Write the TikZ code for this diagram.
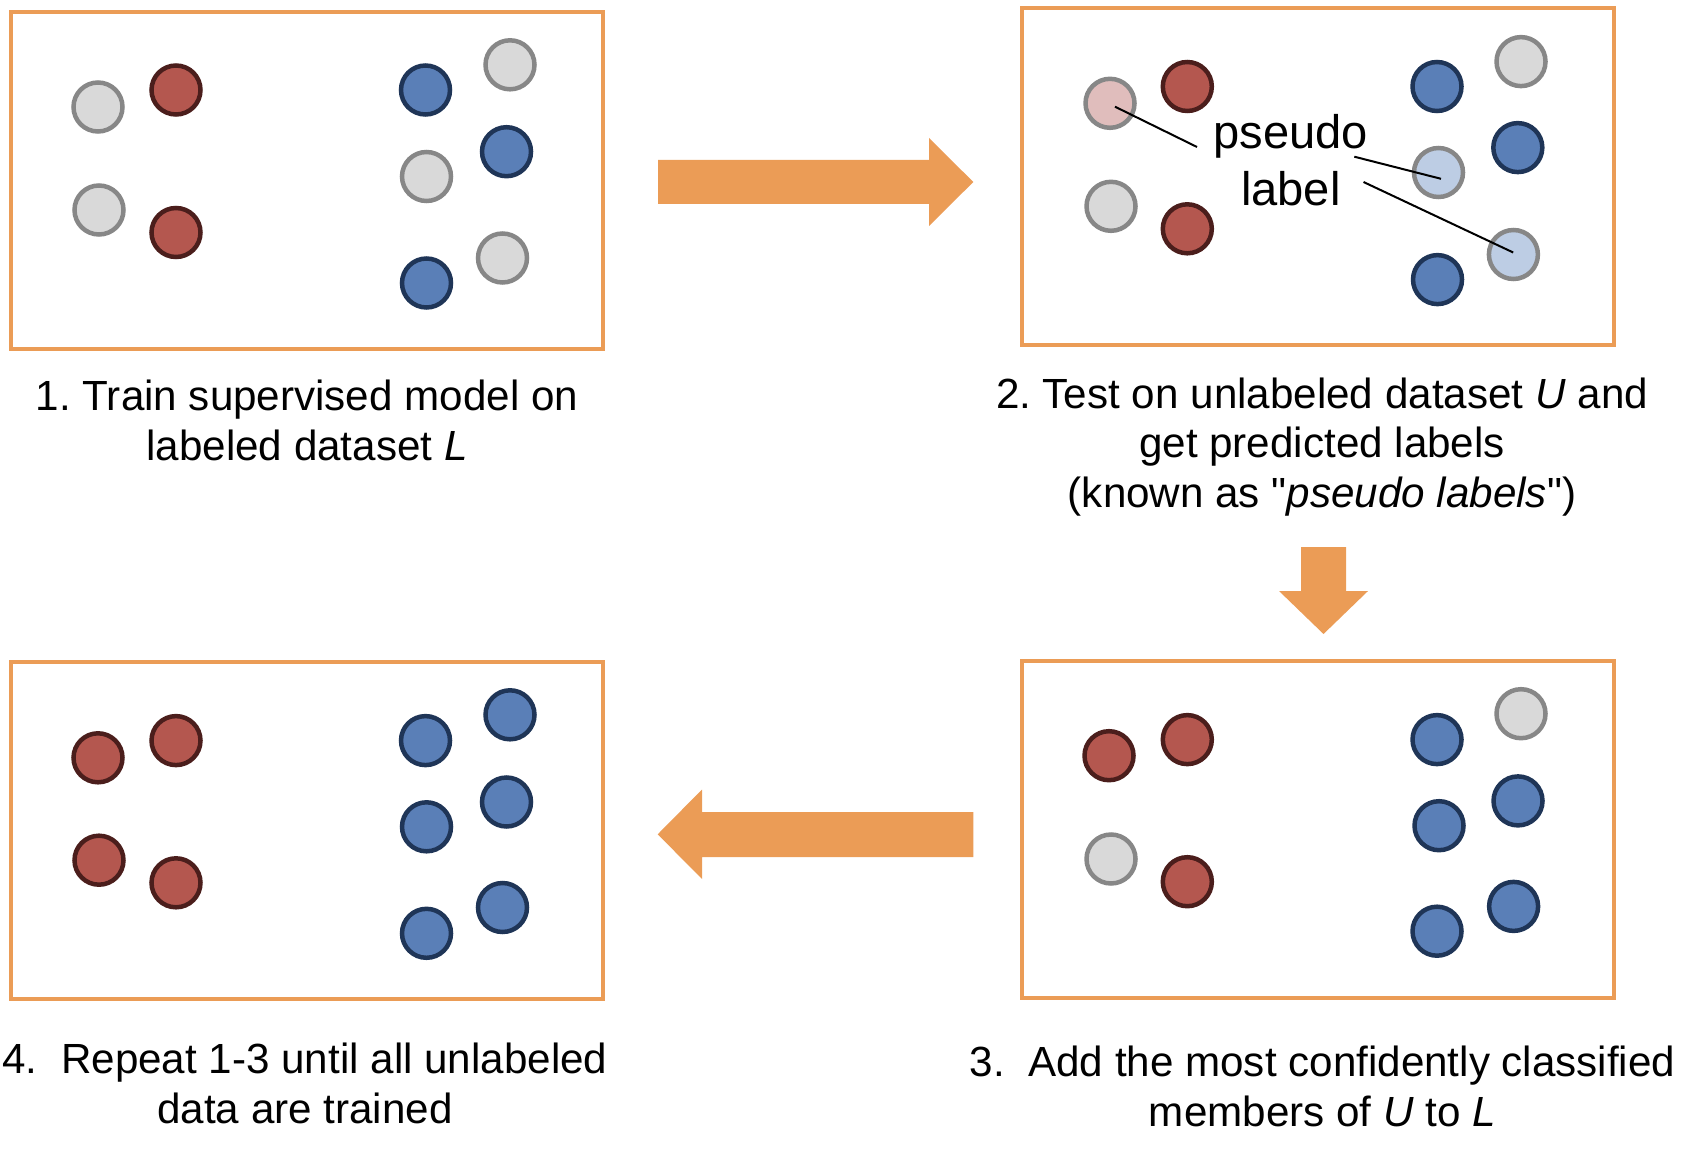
\documentclass[tikz,border=0pt]{standalone}
\usepackage{fontspec}
\setmainfont{Liberation Sans}
\usepackage{tikz}
\frenchspacing

\newcommand\dquote{\XeTeXglyph\XeTeXcharglyph"22\relax}

\definecolor{boxorange}{HTML}{EB9C56}
\definecolor{redfill}{HTML}{B4574F}
\definecolor{redline}{HTML}{4B1E1C}
\definecolor{bluefill}{HTML}{5A7FB7}
\definecolor{blueline}{HTML}{1F3557}
\definecolor{greyfill}{HTML}{D9D9D9}
\definecolor{greyline}{HTML}{878787}
\definecolor{pinkfill}{HTML}{E0BDBC}
\definecolor{lbluefill}{HTML}{BDCDE4}

\tikzset{
  datadot/.style={circle, inner sep=0pt, minimum size=4.9mm, line width=0.45mm},
  greydot/.style={datadot, draw=greyline, fill=greyfill},
  reddot/.style={datadot, draw=redline, fill=redfill},
  bluedot/.style={datadot, draw=blueline, fill=bluefill},
  pinkdot/.style={datadot, draw=greyline, fill=pinkfill},
  lbluedot/.style={datadot, draw=greyline, fill=lbluefill},
  stagebox/.style={draw=boxorange, line width=0.4mm, minimum width=59.2mm, minimum height=33.7mm, inner sep=0pt},
  caption/.style={align=center, inner sep=0pt, anchor=base, font=\fontsize{12}{14}\selectfont},
  leader/.style={line width=0.2mm},
  bigarrow/.style={fill=boxorange}
}

\begin{document}
\begin{tikzpicture}[x=0.1mm, y=-0.1mm]
\useasboundingbox (0,0) rectangle (1688,1154);

\node[stagebox] (box1) at (306.8,180.3) {};
\node[stagebox] (box2) at (1318.4,176.8) {};
\node[stagebox] (box3) at (1318.4,829) {};
\node[stagebox] (box4) at (306.8,830.5) {};

% step 1
\node[greydot] (a1) at (98,107) {};
\node[reddot] (a2) at (176,90) {};
\node[greydot] (a3) at (99,210) {};
\node[reddot] (a4) at (176,232.5) {};
\node[bluedot] (a5) at (425.5,90) {};
\node[greydot] (a6) at (510,64.8) {};
\node[greydot] (a7) at (426.5,176.5) {};
\node[bluedot] (a8) at (506.5,151.7) {};
\node[bluedot] (a9) at (426.5,283) {};
\node[greydot] (a10) at (502.5,258) {};

% step 2
\node[pinkdot] (b1) at (1110,103.3) {};
\node[reddot] (b2) at (1187.3,86.5) {};
\node[greydot] (b3) at (1111,206.3) {};
\node[reddot] (b4) at (1187.3,228.8) {};
\node[bluedot] (b5) at (1437,86.5) {};
\node[greydot] (b6) at (1521,61.6) {};
\node[lbluedot] (b7) at (1438.5,172.5) {};
\node[bluedot] (b8) at (1517.8,147.6) {};
\node[lbluedot] (b9) at (1513.4,254.5) {};
\node[bluedot] (b10) at (1437.5,279.6) {};

\node[align=center, inner sep=0pt, anchor=base, font=\fontsize{13.4}{16.5}\selectfont] (pseudo) at (1290.8,206) {pseudo\\label};
\coordinate (p1) at (1115,106.7);
\coordinate (p1e) at (1197,147);
\coordinate (p2) at (1354.3,156.7);
\coordinate (p2e) at (1441,178.8);
\coordinate (p3) at (1363.5,182);
\coordinate (p3e) at (1513.2,252.5);
\draw[leader] (p1) -- (p1e);
\draw[leader] (p2) -- (p2e);
\draw[leader] (p3) -- (p3e);

% step 3
\node[reddot] (c1) at (1109,755.7) {};
\node[reddot] (c2) at (1187.3,739.6) {};
\node[greydot] (c3) at (1111,859) {};
\node[reddot] (c4) at (1187.3,881.7) {};
\node[bluedot] (c5) at (1437,739.6) {};
\node[greydot] (c6) at (1521,713.7) {};
\node[bluedot] (c7) at (1439,825.7) {};
\node[bluedot] (c8) at (1518,800.9) {};
\node[bluedot] (c9) at (1437,931.2) {};
\node[bluedot] (c10) at (1513.6,906.4) {};

% step 4
\node[reddot] (d1) at (98,757.8) {};
\node[reddot] (d2) at (176,740.6) {};
\node[reddot] (d3) at (99,860.2) {};
\node[reddot] (d4) at (176,882.8) {};
\node[bluedot] (d5) at (425.5,740.6) {};
\node[bluedot] (d6) at (510,714.8) {};
\node[bluedot] (d7) at (426.5,826.8) {};
\node[bluedot] (d8) at (506.5,802) {};
\node[bluedot] (d9) at (426.5,933.3) {};
\node[bluedot] (d10) at (502.5,907.5) {};

\node[caption] (cap1) at (307,460) {1. Train supervised model on\\labeled dataset \textit{L}};
\node[caption] (cap2) at (1322,507) {2. Test on unlabeled dataset \textit{U} and\\get predicted labels\\(known as \dquote\textit{pseudo labels}\dquote)};
\node[caption] (cap3) at (1322.5,1126) {3.\ \ Add the most confidently classified\\members of \textit{U} to \textit{L}};
\node[caption] (cap4) at (305,1123) {4.\ \ Repeat 1-3 until all unlabeled\\data are trained};

\fill[bigarrow] (658,160) -- (929,160) -- (929,138) -- (973.3,182) -- (929,226) -- (929,204) -- (658,204) -- cycle;
\fill[bigarrow] (1301,547) -- (1346,547) -- (1346,591) -- (1368,591) -- (1323.5,634) -- (1279,591) -- (1301,591) -- cycle;
\fill[bigarrow] (973.3,812) -- (702,812) -- (702,789.5) -- (657.7,834.3) -- (702,879) -- (702,857) -- (973.3,857) -- cycle;

\end{tikzpicture}
\end{document}
